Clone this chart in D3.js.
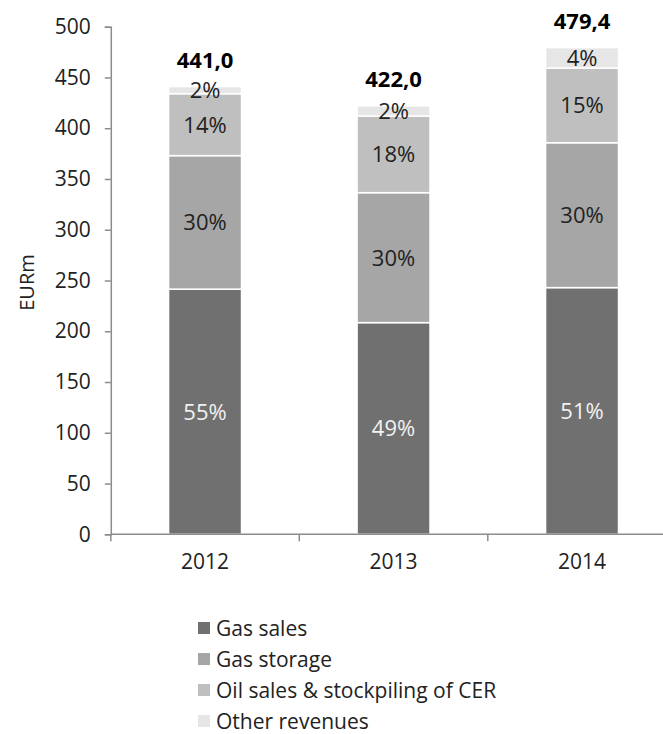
<!DOCTYPE html>
<html>
<head>
<meta charset="utf-8">
<script src="https://cdn.jsdelivr.net/npm/d3@7"></script>
<style>
  html, body { margin: 0; padding: 0; background: #fff; }
  svg { display: block; font-family: "Open Sans", "Noto Sans", sans-serif; font-weight: 400; }
</style>
</head>
<body>
<svg id="chart" width="663" height="734"></svg>
<script>
// Revenue breakdown by year (EURm)
const years = ["2012", "2013", "2014"];
const seriesNames = ["Gas sales", "Gas storage", "Oil sales & stockpiling of CER", "Other revenues"];
const gasSales = [241.5, 208.5, 243.0];
const gasStorage = [131.5, 128.0, 142.7];
const oilSales = [61.0, 75.5, 73.6];
const otherRevenues = [7.0, 10.0, 20.1];
const totals = ["441,0", "422,0", "479,4"];
const shareLabels = [
  ["55%", "49%", "51%"],
  ["30%", "30%", "30%"],
  ["14%", "18%", "15%"],
  ["2%", "2%", "4%"]
];
const yTicks = [0, 50, 100, 150, 200, 250, 300, 350, 400, 450, 500];
const colors = ["#707070", "#a6a6a6", "#bfbfbf", "#e6e6e6"];
const labelColors = ["#f2f2f2", "#222222", "#222222", "#222222"];

const svg = d3.select("#chart");
const axisColor = "#8c8c8c";
const fontFamily = "Open Sans, Noto Sans, sans-serif";
const textColor = "#222222";

const x0 = 110.8, x1 = 676.3, yTop = 26.7, yBottom = 534.3;

const x = d3.scaleBand().domain(years).range([x0, x1]).padding(0);
const y = d3.scaleLinear().domain([0, 500]).range([yBottom, yTop]);
const barW = x.bandwidth() * 0.387;

const rows = years.map((yr, i) => ({
  year: yr,
  "Gas sales": gasSales[i],
  "Gas storage": gasStorage[i],
  "Oil sales & stockpiling of CER": oilSales[i],
  "Other revenues": otherRevenues[i]
}));
const stacked = d3.stack().keys(seriesNames)(rows);

// stacked bars
const layers = svg.append("g").selectAll("g")
  .data(stacked).join("g")
  .attr("fill", (d, i) => colors[i]);

layers.selectAll("rect")
  .data(d => d)
  .join("rect")
  .attr("x", d => x(d.data.year) + (x.bandwidth() - barW) / 2)
  .attr("y", d => y(d[1]))
  .attr("width", barW)
  .attr("height", d => y(d[0]) - y(d[1]))
  .attr("stroke", "#ffffff")
  .attr("stroke-width", 1.5);

// share labels inside segments
stacked.forEach((layer, si) => {
  svg.append("g").selectAll("text")
    .data(layer)
    .join("text")
    .attr("x", d => x(d.data.year) + x.bandwidth() / 2)
    .attr("y", d => (y(d[0]) + y(d[1])) / 2)
    .attr("dy", "0.36em")
    .attr("text-anchor", "middle")
    .attr("font-size", 22)
    .attr("fill", labelColors[si])
    .text((d, i) => shareLabels[si][i]);
});

// totals above bars
const topLayer = stacked[stacked.length - 1];
svg.append("g").selectAll("text")
  .data(topLayer)
  .join("text")
  .attr("x", d => x(d.data.year) + x.bandwidth() / 2)
  .attr("y", d => y(d[1]) - 27)
  .attr("dy", "0.36em")
  .attr("text-anchor", "middle")
  .attr("font-size", 22)
  .attr("font-weight", "bold")
  .attr("fill", "#000")
  .text((d, i) => totals[i]);

// y axis
const yAxis = svg.append("g")
  .attr("transform", `translate(${x0},0)`)
  .call(d3.axisLeft(y).tickValues(yTicks).tickSize(6).tickPadding(14));
yAxis.select(".domain").attr("stroke", axisColor).attr("stroke-width", 1.5);
yAxis.selectAll(".tick line").attr("stroke", axisColor).attr("stroke-width", 1.5);
yAxis.selectAll(".tick text")
  .attr("font-size", 21)
  .attr("font-family", fontFamily)
  .attr("font-weight", 400)
  .attr("fill", textColor);

// x axis: labels under bars, ticks at category boundaries
const xAxis = svg.append("g")
  .attr("transform", `translate(0,${yBottom})`)
  .call(d3.axisBottom(x).tickSize(0).tickPadding(20));
xAxis.select(".domain").remove();
xAxis.selectAll(".tick text")
  .attr("font-size", 21)
  .attr("font-family", fontFamily)
  .attr("font-weight", 400)
  .attr("fill", textColor);

svg.append("line")
  .attr("x1", x0).attr("x2", x1)
  .attr("y1", yBottom).attr("y2", yBottom)
  .attr("stroke", axisColor).attr("stroke-width", 1.5);

const boundaries = years.map(d => x(d)).concat([x1]);
svg.append("g").selectAll("line")
  .data(boundaries)
  .join("line")
  .attr("x1", d => d).attr("x2", d => d)
  .attr("y1", yBottom).attr("y2", yBottom + 7)
  .attr("stroke", axisColor).attr("stroke-width", 1.5);

// y axis title
svg.append("text")
  .attr("transform", `translate(27,${(yTop + yBottom) / 2 + 2}) rotate(-90)`)
  .attr("dy", "0.36em")
  .attr("text-anchor", "middle")
  .attr("font-size", 20)
  .attr("fill", textColor)
  .text("EURm");

// legend
const legend = svg.append("g").attr("transform", "translate(198,628)");
const items = legend.selectAll("g")
  .data(seriesNames)
  .join("g")
  .attr("transform", (d, i) => `translate(0,${i * 31})`);
items.append("rect")
  .attr("x", 0).attr("y", -6)
  .attr("width", 12).attr("height", 12)
  .attr("fill", (d, i) => colors[i]);
items.append("text")
  .attr("x", 18)
  .attr("dy", "0.36em")
  .attr("font-size", 21)
  .attr("fill", textColor)
  .text(d => d);
</script>
</body>
</html>
